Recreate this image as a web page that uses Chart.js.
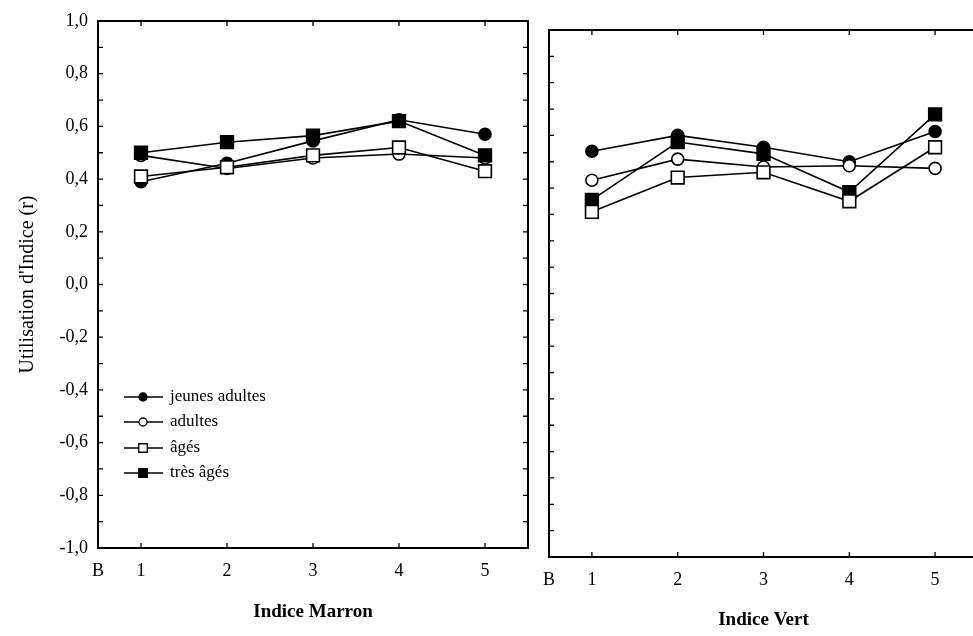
<!DOCTYPE html>
<html>
<head>
<meta charset="utf-8">
<script src="https://cdn.jsdelivr.net/npm/chart.js@4.4.0/dist/chart.umd.min.js"></script>
<style>
  html, body { margin: 0; padding: 0; background: #fff; overflow: hidden; width: 973px; height: 636px; }
  #wrapL { position: absolute; left: 0; top: 0; width: 545px; height: 636px; }
  #wrapR { position: absolute; left: 531px; top: 0; width: 459px; height: 636px; }
</style>
</head>
<body>
<div id="wrapL"><canvas id="marronChart"></canvas></div>
<div id="wrapR"><canvas id="vertChart"></canvas></div>
<script>
// ---------- DATA ----------
const xValues = [1, 2, 3, 4, 5];
const xTickValues = [0.5, 1, 2, 3, 4, 5];
const xTickLabels = ["B", "1", "2", "3", "4", "5"];
const yTickValues = [-1, -0.8, -0.6, -0.4, -0.2, 0, 0.2, 0.4, 0.6, 0.8, 1];
const yTickLabels = ["-1,0", "-0,8", "-0,6", "-0,4", "-0,2", "0,0", "0,2", "0,4", "0,6", "0,8", "1,0"];
const yMinorTicks = [-1, -0.9, -0.8, -0.7, -0.6, -0.5, -0.4, -0.3, -0.2, -0.1, 0,
                     0.1, 0.2, 0.3, 0.4, 0.5, 0.6, 0.7, 0.8, 0.9, 1];
const groups = ["jeunes adultes", "adultes", "âgés", "très âgés"];

// Indice Marron
const marronJeunes  = [0.39, 0.46, 0.545, 0.625, 0.57];
const marronAdultes = [0.49, 0.44, 0.48, 0.495, 0.48];
const marronAges    = [0.41, 0.445, 0.49, 0.52, 0.43];
const marronTres    = [0.50, 0.54, 0.565, 0.62, 0.49];

// Indice Vert
const vertJeunes  = [0.54, 0.60, 0.555, 0.50, 0.615];
const vertAdultes = [0.43, 0.51, 0.48, 0.485, 0.475];
const vertAges    = [0.31, 0.44, 0.46, 0.35, 0.555];
const vertTres    = [0.355, 0.575, 0.53, 0.385, 0.68];

const SERIF = "'Liberation Serif', 'DejaVu Serif', serif";

// ---------- HELPERS ----------
// style per group: pointStyle, filled, draw order (lower = on top)
const groupStyle = [
  { style: "circle", filled: true,  order: 4 },
  { style: "circle", filled: false, order: 3 },
  { style: "rect",   filled: false, order: 1 },
  { style: "rect",   filled: true,  order: 2 }
];

function makeDatasets(seriesList) {
  return seriesList.map((values, i) => {
    const g = groupStyle[i];
    return {
      label: groups[i],
      data: xValues.map((x, k) => ({ x, y: values[k] })),
      borderColor: "#000",
      borderWidth: 1.6,
      pointStyle: g.style,
      pointRadius: g.style === "rect" ? 9 : 6,
      pointBackgroundColor: g.filled ? "#000" : "#fff",
      pointBorderColor: "#000",
      pointBorderWidth: 1.6,
      tension: 0,
      order: g.order,
      clip: false
    };
  });
}

// frame with inward tick marks
const framePlugin = {
  id: "frame",
  beforeDatasetsDraw(chart) {
    const { ctx, chartArea: a, scales } = chart;
    ctx.save();
    ctx.strokeStyle = "#000";
    ctx.lineWidth = 2;
    ctx.strokeRect(a.left, a.top, a.right - a.left, a.bottom - a.top);
    ctx.lineWidth = 1.3;
    ctx.beginPath();
    yMinorTicks.forEach(v => {
      const y = scales.y.getPixelForValue(v);
      ctx.moveTo(a.left, y); ctx.lineTo(a.left + 5, y);
      ctx.moveTo(a.right, y); ctx.lineTo(a.right - 5, y);
    });
    xValues.forEach(v => {
      const x = scales.x.getPixelForValue(v);
      ctx.moveTo(x, a.top); ctx.lineTo(x, a.top + 5);
      ctx.moveTo(x, a.bottom); ctx.lineTo(x, a.bottom - 5);
    });
    ctx.stroke();
    ctx.restore();
  }
};

// legend drawn inside the left panel
const legendPlugin = {
  id: "innerLegend",
  afterDraw(chart) {
    const ctx = chart.ctx;
    const rows = [397, 422, 448, 473];
    ctx.save();
    chart.data.datasets.forEach((ds, i) => {
      const y = rows[i];
      ctx.strokeStyle = "#000";
      ctx.lineWidth = 1.3;
      ctx.beginPath();
      ctx.moveTo(124, y); ctx.lineTo(163, y);
      ctx.stroke();
      ctx.fillStyle = ds.pointBackgroundColor;
      ctx.strokeStyle = "#000";
      Chart.helpers.drawPoint(ctx, {
        pointStyle: ds.pointStyle,
        radius: ds.pointStyle === "rect" ? 6 : 4,
        borderWidth: 1.2,
        rotation: 0
      }, 143, y);
      ctx.fillStyle = "#000";
      ctx.font = "17px " + SERIF;
      ctx.textBaseline = "middle";
      ctx.textAlign = "left";
      ctx.fillText(ds.label, 170, y);
    });
    ctx.restore();
  }
};

function xScale(title, titlePadBottom, height) {
  return {
    type: "linear",
    min: 0.5,
    max: 5.5,
    afterBuildTicks: s => { s.ticks = xTickValues.map(v => ({ value: v })); },
    afterFit: s => { s.height = height; },
    ticks: {
      autoSkip: false,
      maxRotation: 0,
      padding: 12,
      color: "#000",
      font: { family: SERIF, size: 18 },
      callback: v => xTickLabels[xTickValues.indexOf(v)]
    },
    grid: { display: false, drawTicks: false },
    border: { display: false },
    title: {
      display: true,
      text: title,
      color: "#000",
      font: { family: SERIF, size: 19, weight: "bold" },
      padding: { top: 0, bottom: titlePadBottom }
    }
  };
}

function yScale(show) {
  return {
    display: show,
    min: -1,
    max: 1,
    afterBuildTicks: s => { s.ticks = yTickValues.map(v => ({ value: v })); },
    afterFit: s => { if (show) s.width = 98; },
    ticks: {
      padding: 10,
      color: "#000",
      font: { family: SERIF, size: 18 },
      callback: v => yTickLabels[yTickValues.indexOf(v)]
    },
    grid: { display: false, drawTicks: false },
    border: { display: false },
    title: {
      display: show,
      text: "Utilisation d'Indice (r)",
      color: "#000",
      font: { family: SERIF, size: 20 },
      padding: { top: 16, bottom: 0 }
    }
  };
}

const baseOptions = {
  responsive: true,
  maintainAspectRatio: false,
  animation: false,
  events: [],
  plugins: { legend: { display: false }, tooltip: { enabled: false } }
};

// ---------- INDICE MARRON ----------
new Chart(document.getElementById("marronChart"), {
  type: "line",
  data: { datasets: makeDatasets([marronJeunes, marronAdultes, marronAges, marronTres]) },
  options: {
    ...baseOptions,
    layout: { padding: { left: 0, right: 17, top: 21, bottom: 0 } },
    scales: { x: xScale("Indice Marron", 13, 88), y: yScale(true) }
  },
  plugins: [framePlugin, legendPlugin]
});

// ---------- INDICE VERT ----------
new Chart(document.getElementById("vertChart"), {
  type: "line",
  data: { datasets: makeDatasets([vertJeunes, vertAdultes, vertAges, vertTres]) },
  options: {
    ...baseOptions,
    layout: { padding: { left: 13, right: 12, top: 30, bottom: 0 } },
    scales: { x: xScale("Indice Vert", 5, 79), y: yScale(false) }
  },
  plugins: [framePlugin]
});
</script>
</body>
</html>
